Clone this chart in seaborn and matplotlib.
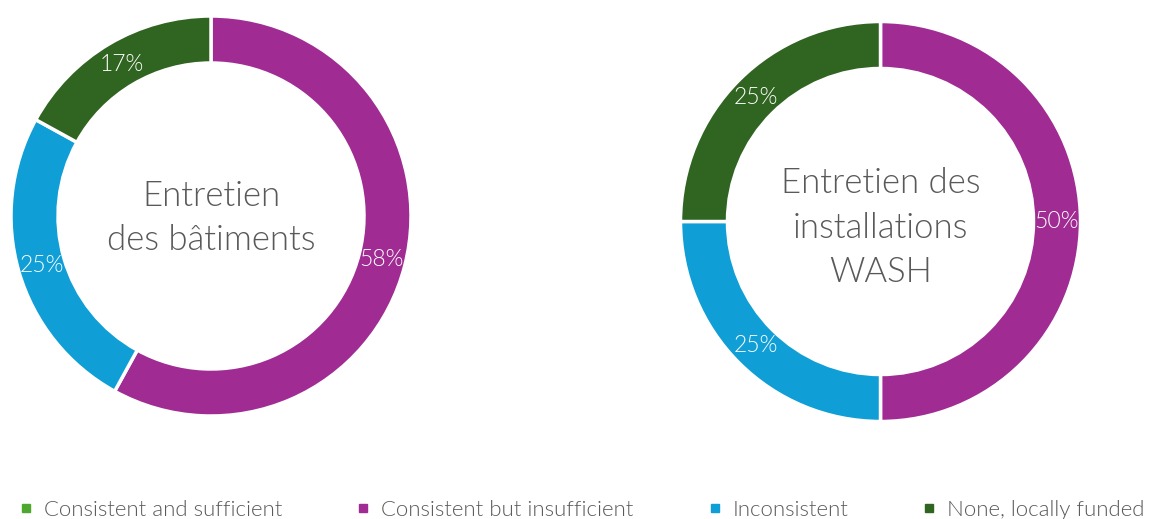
import matplotlib
matplotlib.use("Agg")
import matplotlib.pyplot as plt
from matplotlib.lines import Line2D
import seaborn as sns

# Funding categories shared by both donuts
categories = ["Consistent and sufficient", "Consistent but insufficient",
              "Inconsistent", "None, locally funded"]
colors = ["#4EA72E", "#A02B93", "#0F9ED5", "#306421"]

# Share of respondents (%) per category
buildings = [0, 58, 25, 17]
wash = [0, 50, 25, 25]

titles = ["Entretien\ndes bâtiments", "Entretien des\ninstallations\nWASH"]

sns.set_theme(style="white")
plt.rcParams["font.family"] = ["Lato", "DejaVu Sans"]

W, H = 1149, 519
fig = plt.figure(figsize=(W / 100, H / 100), dpi=100)

TEXT = "#595959"
R_OUT = 1.0
RING = 0.235


def donut(ax, values, title, title_y):
    ax.pie(
        values, colors=colors, startangle=90, counterclock=False,
        radius=R_OUT, pctdistance=0.88,
        autopct=lambda p: f"{p:.0f}%" if p > 0 else "",
        wedgeprops=dict(width=RING, edgecolor="white", linewidth=2.5),
        textprops=dict(color="white", fontsize=16.5, fontweight=300),
    )
    ax.text(0, title_y, title, ha="center", va="center", color=TEXT,
            fontsize=25, fontweight=300, linespacing=1.48)
    ax.set_xlim(-1.01, 1.01)
    ax.set_ylim(-1.01, 1.01)
    ax.set_aspect("equal")
    ax.axis("off")


def place(cx, cy, r):
    return [(cx - r) / W, (H - cy - r) / H, 2 * r / W, 2 * r / H]


ax1 = fig.add_axes(place(211, 216, 202))
donut(ax1, buildings, titles[0], -0.01)
ax2 = fig.add_axes(place(880.5, 221.5, 202))
donut(ax2, wash, titles[1], -0.03)

handles = [Line2D([0], [0], marker="s", linestyle="", markersize=6,
                  markerfacecolor=c, markeredgecolor=c) for c in colors]
leg = fig.legend(handles, categories, loc="center", ncol=4,
                 bbox_to_anchor=(582 / W, (H - 509.5) / H), frameon=False,
                 fontsize=16, handlelength=0.6, handletextpad=0.5,
                 columnspacing=3.35, borderaxespad=0, borderpad=0)
for t in leg.get_texts():
    t.set_color(TEXT)
    t.set_fontweight(300)

fig.savefig("out.png", dpi=100, facecolor="white")
